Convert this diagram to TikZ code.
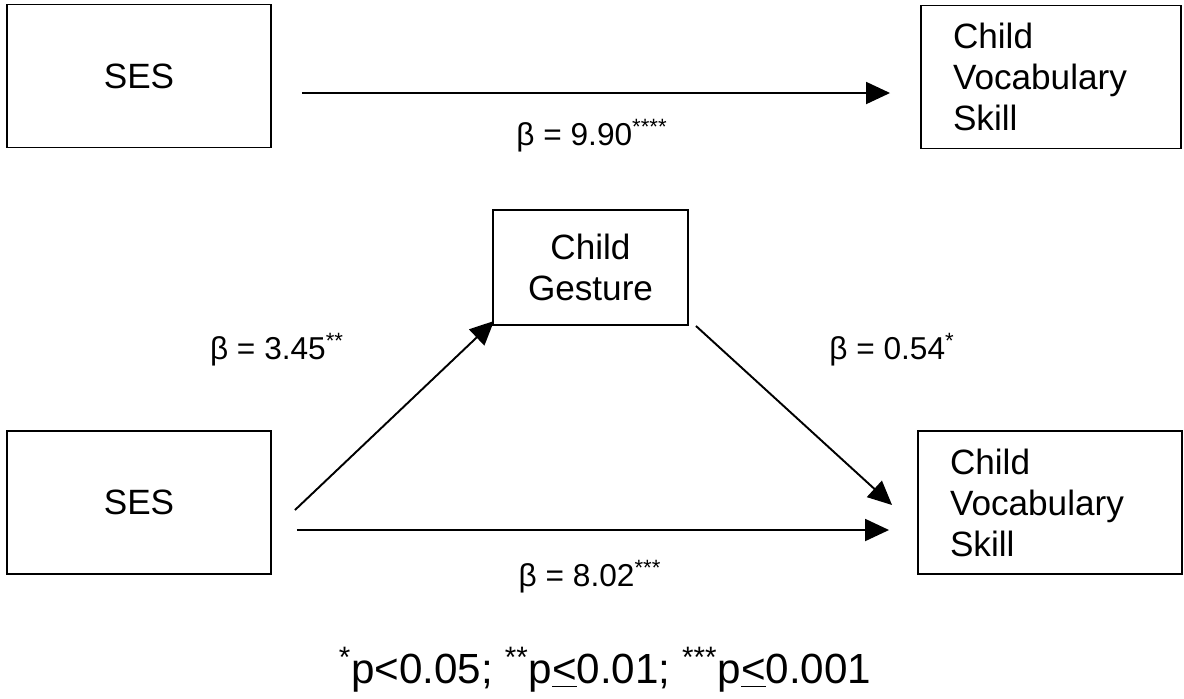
\documentclass[tikz,border=0pt]{standalone}
\usepackage{fontspec}
\setmainfont{Liberation Sans}
\usetikzlibrary{arrows.meta}

\tikzset{
  varbox/.style={draw,line width=1.1pt,minimum width=5.28cm,minimum height=2.86cm,
    font=\fontsize{20}{23.3}\selectfont},
  outbox/.style={varbox,align=left,inner xsep=0.64cm,text width=4.0cm},
  path/.style={line width=1.1pt,-{Triangle[length=0.48cm,width=0.44cm]}},
  coef/.style={font=\fontsize{18}{21}\selectfont}
}

\begin{document}
\begin{tikzpicture}
\useasboundingbox (0,0) rectangle (23.68,-13.96);

% total effect
\node[varbox] (ses1) at (2.78,-1.52) {SES};
\node[outbox,minimum width=5.2cm,minimum height=2.86cm,text width=3.92cm] (cvs1) at (21.02,-1.54) {Child\\Vocabulary\\Skill};

\draw[path] ([xshift=0.6cm,yshift=-0.34cm]ses1.east) coordinate (t1) -- ([xshift=-0.6cm]t1 -| cvs1.west);
\node[coef] (b1) at (11.84,-2.72) {β = 9.90\textsuperscript{****}};

% mediation
\node[varbox,minimum width=3.9cm,minimum height=2.3cm,align=center] (gest) at (11.81,-5.35) {Child\\Gesture};
\node[varbox] (ses2) at (2.78,-10.05) {SES};
\node[outbox,minimum width=5.24cm] (cvs2) at (21.0,-10.05) {Child\\Vocabulary\\Skill};

\draw[path] ([xshift=0.46cm,yshift=-0.15cm]ses2.east) -- ([xshift=0.04cm,yshift=0.1cm]gest.south west);
\draw[path] ([xshift=0.14cm]gest.south east) -- ([xshift=-0.5cm,yshift=-0.05cm]cvs2.west);
\draw[path] ([xshift=0.5cm,yshift=-0.55cm]ses2.east) coordinate (t2) -- ([xshift=-0.56cm]t2 -| cvs2.west);

\node[coef] (b2) at (5.54,-7.0) {β = 3.45\textsuperscript{**}};
\node[coef] (b3) at (17.84,-7.0) {β = 0.54\textsuperscript{*}};
\node[coef] (b4) at (11.8,-11.54) {β = 8.02\textsuperscript{***}};

\node[font=\fontsize{24}{28}\selectfont] (note) at (12.1,-13.4)
  {\textsuperscript{*}p<0.05; \textsuperscript{**}p\underline{<}0.01; \textsuperscript{***}p\underline{<}0.001};
\end{tikzpicture}
\end{document}
